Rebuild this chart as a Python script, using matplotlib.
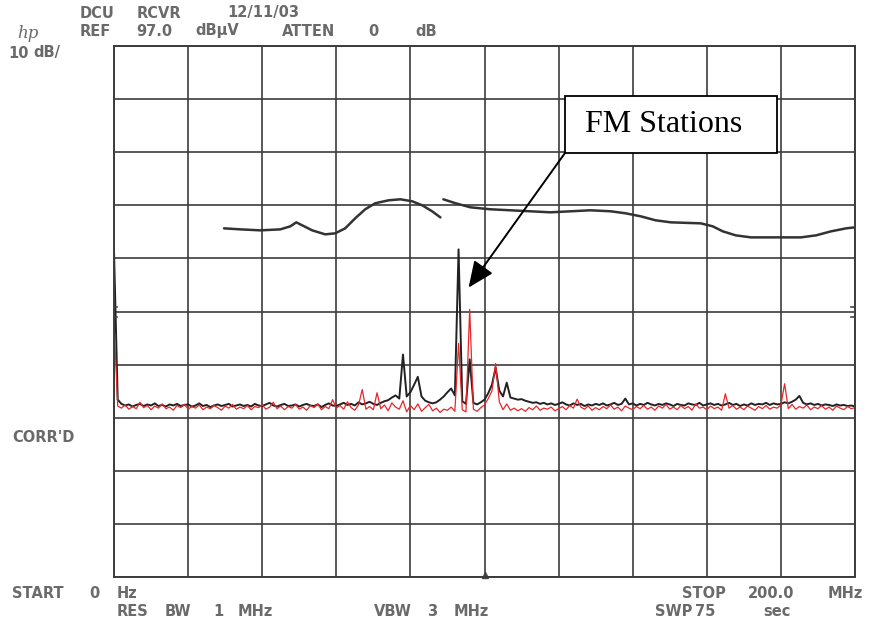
import numpy as np
import matplotlib.pyplot as plt
from matplotlib.patches import Rectangle

# Sweep: 0 - 200 MHz, one reading per MHz
freq_mhz = np.arange(0, 201)

# Trace A (black) in dBuV
trace_black = [
    58.5, 30.4, 29.6, 29.3, 29.5, 29.1, 29.4, 29.6, 29.2, 29.5,
    29.3, 29.7, 29.2, 29.4, 29.1, 29.5, 29.3, 29.6, 29.2, 29.4,
    29.5, 29.1, 29.3, 29.7, 29.2, 29.4, 29.0, 29.3, 29.5, 29.2,
    29.4, 29.6, 29.1, 29.3, 29.5, 29.2, 29.4, 29.1, 29.6, 29.3,
    29.2, 29.5, 29.8, 29.3, 29.1, 29.4, 29.6, 29.2, 29.3, 29.5,
    29.1, 29.4, 29.6, 29.3, 29.2, 29.5, 29.0, 29.4, 29.7, 29.3,
    29.2, 29.5, 29.8, 29.4, 29.6, 29.3, 29.9, 29.5, 29.7, 30.0,
    29.6, 29.4, 29.8, 30.1, 30.3, 30.8, 31.2, 30.6, 38.9, 31.0,
    31.8, 33.2, 34.7, 31.0, 30.2, 29.9, 29.7, 29.9, 30.4, 31.0,
    31.8, 32.5, 31.2, 58.7, 30.1, 29.6, 38.0, 29.8, 29.5, 29.9,
    30.4, 31.6, 33.2, 36.4, 32.1, 31.0, 33.6, 30.8, 30.6, 30.4,
    30.5, 30.2, 30.0, 29.8, 29.9, 29.6, 29.8, 29.5, 29.7, 29.4,
    29.6, 29.9, 29.5, 29.3, 29.7, 29.4, 29.6, 29.2, 29.5, 29.3,
    29.6, 29.4, 29.7, 29.3, 29.5, 29.8, 29.4, 29.6, 30.6, 29.5,
    29.7, 29.3, 29.6, 29.4, 29.8, 29.5, 29.3, 29.6, 29.4, 29.7,
    29.5, 29.2, 29.6, 29.4, 29.3, 29.7, 29.5, 29.4, 29.8, 29.3,
    29.5, 29.7, 29.4, 29.6, 29.3, 29.5, 29.8, 29.4, 29.6, 29.2,
    29.5, 29.3, 29.7, 29.4, 29.6, 29.5, 29.8, 29.4, 29.7, 29.5,
    29.6, 29.9, 29.7, 30.0, 30.4, 31.1, 29.8, 29.5, 29.7, 29.4,
    29.6, 29.3, 29.5, 29.4, 29.2, 29.5, 29.3, 29.4, 29.2, 29.3,
    29.1,
]

# Trace B (red) in dBuV
trace_red = [
    45.0, 29.2, 28.8, 29.4, 28.6, 29.1, 28.7, 29.9, 28.9, 29.3,
    28.5, 29.2, 28.8, 29.6, 28.7, 29.0, 28.4, 29.3, 28.9, 29.5,
    28.6, 29.1, 28.8, 29.4, 28.5, 29.0, 28.7, 29.3, 28.9, 28.4,
    29.2, 28.8, 29.5, 28.6, 29.0, 28.7, 29.3, 28.5, 29.1, 28.9,
    29.4, 28.6, 29.0, 29.9, 28.7, 29.2, 28.5, 29.1, 28.8, 29.5,
    28.6, 29.0, 28.4, 29.3, 28.9, 29.6, 28.5, 29.1, 28.7, 30.4,
    28.8, 29.3, 28.6, 30.0, 28.9, 28.4, 29.4, 32.3, 28.6, 29.1,
    28.5, 31.7, 28.7, 29.4, 28.3, 29.8, 29.0, 28.6, 30.2, 28.1,
    29.3, 28.5, 29.6, 28.2, 28.9, 29.5, 28.3, 28.8, 28.0, 28.6,
    28.4, 29.0, 28.2, 41.0, 28.5, 28.1, 47.4, 28.6, 28.2, 28.9,
    29.4, 30.6, 32.0, 37.2, 30.0, 28.5, 29.6, 28.4, 28.8, 28.3,
    28.7, 28.2, 28.9, 28.5, 29.2, 28.4, 28.8, 28.6, 29.0, 28.3,
    28.7, 29.1, 28.5, 29.3, 28.8, 30.5, 29.0, 28.6, 29.2, 28.4,
    28.9, 28.5, 29.1, 28.7, 29.4, 28.6, 29.0, 28.3, 29.2, 28.8,
    28.5, 29.1, 28.7, 29.3, 28.6, 29.0, 28.4, 29.2, 28.8, 29.5,
    28.6, 29.0, 28.5, 29.3, 28.7, 29.1, 28.4, 29.6, 28.8, 29.0,
    28.5, 29.2, 28.7, 29.0, 28.4, 31.5, 28.8, 29.3, 28.6, 29.0,
    28.5, 29.2, 28.8, 28.4, 29.1, 28.7, 29.3, 28.6, 29.0, 28.8,
    29.4, 33.4, 28.7, 29.5, 28.6, 29.1, 28.8, 29.4, 28.5, 29.0,
    28.7, 29.3, 28.6, 29.0, 28.4, 29.2, 28.8, 28.5, 29.1, 28.7,
    28.9,
]

# Limit line drawn in two pieces
limit1_freq = [29.7, 34.1, 39.5, 44.9, 47.6, 49.2, 50.8, 53.5, 57.0, 59.7,
               62.4, 65.1, 67.8, 70.5, 74.1, 77.3, 80.5, 83.2, 85.9, 88.1]
limit1_level = [62.66, 62.47, 62.28, 62.47, 63.04, 63.79, 63.23, 62.28, 61.53, 61.72,
                62.66, 64.55, 66.25, 67.38, 67.94, 68.13, 67.75, 67.0, 65.85, 64.72]

limit2_freq = [88.9, 92.2, 96.2, 101.6, 107.0, 112.4, 117.8, 123.2, 128.6, 134.1,
               138.1, 142.2, 146.2, 150.3, 158.4, 161.6, 164.3, 167.8, 171.9, 176.0,
               180.0, 185.4, 189.5, 193.5, 197.6, 200.0]
limit2_level = [68.13, 67.38, 66.62, 66.25, 66.06, 65.87, 65.68, 65.87, 66.06, 65.87,
                65.49, 64.92, 64.17, 63.79, 63.6, 63.04, 62.1, 61.34, 60.96, 60.96,
                60.96, 60.96, 61.34, 62.09, 62.66, 62.85]

ref_level = 97.0
db_per_div = 10
start_mhz, stop_mhz = 0, 200

W, H = 871, 625
fig = plt.figure(figsize=(W / 100, H / 100), dpi=100)
ax = fig.add_axes([114 / W, 1 - 577 / H, 741 / W, 531 / H])

grid_col = '#3c3c3c'
ax.set_xlim(start_mhz, stop_mhz)
ax.set_ylim(ref_level - 10 * db_per_div, ref_level)
ax.set_xticks(np.arange(start_mhz, stop_mhz + 1, 20))
ax.set_yticks(np.arange(ref_level - 10 * db_per_div, ref_level + 1, db_per_div))
ax.tick_params(length=0, labelbottom=False, labelleft=False)
ax.grid(True, color=grid_col, lw=1.2)
for sp in ax.spines.values():
    sp.set_color(grid_col)
    sp.set_linewidth(1.4)

ax.plot(limit1_freq, limit1_level, color='#333333', lw=1.8, solid_capstyle='round')
ax.plot(limit2_freq, limit2_level, color='#333333', lw=1.8, solid_capstyle='round')
ax.plot(freq_mhz, trace_black, color='#222222', lw=1.4)
ax.plot(freq_mhz, trace_red, color='#e8262a', lw=0.9)

# display-line markers on both edges and centre marker
for yv in (47.8, 45.9):
    ax.plot([0, 0.8], [yv, yv], color='#444444', lw=1.2)
    ax.plot([198.8, 200], [yv, yv], color='#444444', lw=1.2)
ax.plot([100], [ref_level - 10 * db_per_div + 0.4], marker='^', ms=4,
        color='#444444', clip_on=False)

# instrument annotations
txt = '#6a6a6a'


def label(x, y, s, **kw):
    fig.text(x / W, 1 - y / H, s, ha='left', va='center', fontsize=10.5,
             color=txt, family='DejaVu Sans', weight='bold', **kw)


label(80, 13, 'DCU')
label(137, 13, 'RCVR')
label(227, 13, '12/11/03')
label(80, 31, 'REF')
label(136, 31, '97.0')
label(195, 31, 'dBµV')
label(282, 31, 'ATTEN')
label(368, 31, '0')
label(415, 31, 'dB')
label(8, 53, '10')
label(33, 53, 'dB/')
label(12, 437, "CORR'D")
label(12, 593, 'START')
label(89, 593, '0')
label(117, 593, 'Hz')
label(682, 593, 'STOP')
label(748, 593, '200.0')
label(828, 593, 'MHz')
label(117, 612, 'RES')
label(165, 612, 'BW')
label(213, 612, '1')
label(238, 612, 'MHz')
label(374, 612, 'VBW')
label(427, 612, '3')
label(454, 612, 'MHz')
label(655, 612, 'SWP')
label(695, 612, '75')
label(763, 612, 'sec')
fig.text(17 / W, 1 - 34 / H, 'hp', ha='left', va='center', fontsize=12,
         color=txt, family='DejaVu Serif', style='italic')

# callout box and arrow
fig.patches.append(Rectangle((565 / W, 1 - 153 / H), 212 / W, 57 / H,
                             transform=fig.transFigure, fc='white',
                             ec='black', lw=1.3, zorder=5))
fig.text(585 / W, 1 - 125 / H, 'FM Stations', ha='left', va='center',
         fontsize=23, family='Liberation Serif', color='black', zorder=6)
ax.annotate('', xy=(95.7, 51.5), xycoords='data',
            xytext=(565, H - 153), textcoords='figure pixels',
            arrowprops=dict(arrowstyle='-|>,head_length=0.8,head_width=0.35',
                            mutation_scale=20, color='black', lw=1.4,
                            shrinkA=0, shrinkB=0),
            annotation_clip=False)

fig.savefig('out.png', dpi=100, facecolor='white')
